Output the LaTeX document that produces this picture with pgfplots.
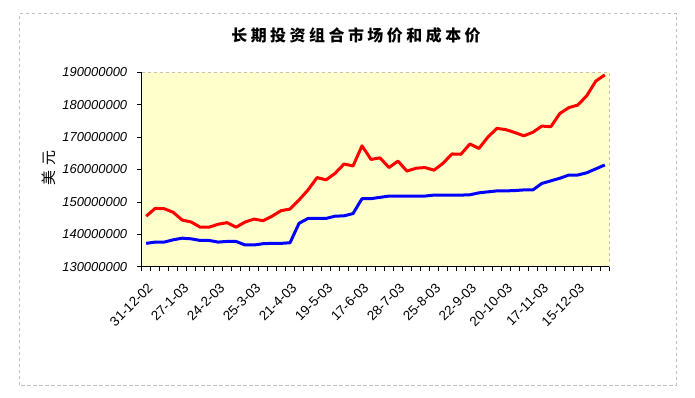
\documentclass[border=0pt]{standalone}
\usepackage{fontspec}
\setmainfont{Liberation Sans}
\newfontfamily\cjk{Noto Sans CJK SC}
\newfontfamily\cjkt[LetterSpace=22]{Noto Sans CJK SC}
\usepackage{pgfplots}
\usepackage{pgfplotstable}
\pgfplotsset{compat=1.18}
\definecolor{bgyellow}{HTML}{FFFFCC}
\definecolor{bordergray}{HTML}{C0C0C0}

\pgfplotstableread{
i market cost
0 145600000 137200000
1 148000000 137600000
2 147900000 137600000
3 146800000 138300000
4 144400000 138800000
5 143800000 138600000
6 142200000 138100000
7 142200000 138100000
8 143100000 137600000
9 143600000 137800000
10 142200000 137800000
11 143800000 136700000
12 144700000 136700000
13 144200000 137100000
14 145600000 137200000
15 147300000 137200000
16 147800000 137400000
17 150600000 143400000
18 153700000 144900000
19 157500000 144900000
20 156800000 144900000
21 158800000 145600000
22 161700000 145700000
23 161100000 146400000
24 167300000 151000000
25 163100000 151000000
26 163600000 151400000
27 160600000 151800000
28 162600000 151800000
29 159500000 151800000
30 160400000 151800000
31 160600000 151800000
32 159800000 152100000
33 161900000 152100000
34 164800000 152100000
35 164700000 152100000
36 167900000 152200000
37 166500000 152800000
38 170000000 153100000
39 172700000 153400000
40 172300000 153400000
41 171400000 153500000
42 170400000 153700000
43 171500000 153700000
44 173400000 155700000
45 173200000 156500000
46 177300000 157300000
47 179100000 158300000
48 179900000 158300000
49 182800000 159000000
50 187300000 160200000
51 189200000 161400000
}\datatable

\begin{document}
\begin{tikzpicture}[x=1bp,y=1bp]
\begin{scope}[shift={(-141.7,-130.3)}]
\path[use as bounding box, fill=white] (0,0) rectangle (695,397);
\draw[bordergray, line width=1bp, dash pattern=on 3.3bp off 2.7bp] (19.5,11.7) rectangle (676.3,383.5);
\node[font=\cjkt\bfseries\fontsize{16}{16}\selectfont] at (356,362) {长期投资组合市场价和成本价};
\node[rotate=90, font=\cjk\fontsize{15}{15}\selectfont] at (49,229) {美\hspace{5bp}元};
\end{scope}
\begin{axis}[
  scale only axis, width=467.6bp, height=194.4bp,
  xmin=-0.5, xmax=51.5,
  ymin=130000000, ymax=190000000,
  scaled y ticks=false,
  axis x line*=bottom, axis y line*=left,
  axis line style={black, line width=0.8bp},
  axis background/.style={fill=bgyellow},
  tick align=outside,
  major tick length=0pt,
  minor tick length=4.6bp,
  tick style={black, line width=0.8bp},
  ytick={130000000,140000000,150000000,160000000,170000000,180000000,190000000},
  minor ytick={130000000,140000000,150000000,160000000,170000000,180000000,190000000},
  yticklabels={130000000,140000000,150000000,160000000,170000000,180000000,190000000},
  yticklabel style={font=\itshape\fontsize{13}{13}\selectfont, xshift=-11bp},
  xtick={0,4,...,48},
  minor xtick={-0.5,0.5,...,51.5},
  xticklabels={31-12-02,27-1-03,24-2-03,25-3-03,21-4-03,19-5-03,17-6-03,28-7-03,25-8-03,22-9-03,20-10-03,17-11-03,15-12-03},
  xticklabel style={rotate=45, anchor=north east, font=\fontsize{13.5}{13.5}\selectfont, xshift=-7bp, yshift=-8bp},
  clip=false,
]
\draw[bordergray, line width=1bp, dash pattern=on 3.3bp off 2.7bp] (rel axis cs:0,1) -- (rel axis cs:1,1) -- (rel axis cs:1,0);
\addplot[red, line width=3bp, line join=round] table[x=i, y=market] {\datatable};
\addplot[blue, line width=3bp, line join=round] table[x=i, y=cost] {\datatable};
\end{axis}
\end{tikzpicture}
\end{document}
